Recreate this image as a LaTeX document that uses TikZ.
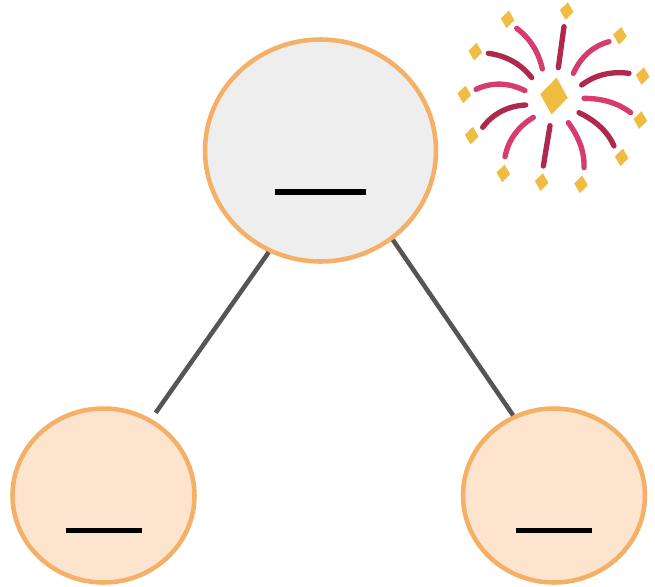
\documentclass[tikz,border=0pt]{standalone}
\usepackage{tikz}
\usetikzlibrary{positioning}
\usetikzlibrary{shapes.geometric}

\definecolor{ringorange}{HTML}{F5B067}
\definecolor{fillpeach}{HTML}{FCE4CE}
\definecolor{fillgrey}{HTML}{EEEEEE}
\definecolor{edgegrey}{HTML}{555555}
\definecolor{sparkpink}{HTML}{D63C6C}
\definecolor{sparkdark}{HTML}{B0294C}
\definecolor{sparkgold}{HTML}{F0BC42}

\begin{document}
\begin{tikzpicture} [
    x=0.75pt, y=-0.75pt,
    node distance=258.75pt and 162.75pt,    % centre to centre
    on grid,
    ]
% -------------------------------------------------
\tikzset{
  base/.style={draw=ringorange, line width=3.4pt, ellipse, inner sep=0pt},
  rootnode/.style={base, fill=fillgrey, minimum width=173.25pt, minimum height=166.5pt},
  leafnode/.style={base, fill=fillpeach, minimum width=136.5pt, minimum height=130.5pt},
  bar/.style={rectangle, fill=black, inner sep=0pt},
  rootbar/.style={bar, minimum width=68.25pt, minimum height=4.5pt},
  leafbar/.style={bar, minimum width=57pt, minimum height=3.75pt},
  line/.style={draw=edgegrey, line width=3.4pt},
  sparkp/.style={draw=sparkpink, line width=4pt, line cap=round},
  sparkd/.style={draw=sparkdark, line width=4pt, line cap=round},
  gem/.style={diamond, fill=sparkgold, inner sep=0pt, rotate=-8, minimum width=10.5pt, minimum height=13.5pt},
}
    \useasboundingbox (0,0) rectangle (655,586);

    \node [rootnode] (top) at (320.5,150.5) {};
    \node [leafnode, below left=of top] (left) {};
    \node [leafnode, below right=258.75pt and 175.1pt of top] (right) {};

    \node [rootbar, below=31.1pt of top] (topbar) {};
    \node [leafbar, below=26.2pt of left] (leftbar) {};
    \node [leafbar, below=26.2pt of right] (rightbar) {};

    \path [line, shorten >=5.6pt] (top.243) -- (left.58);
    \path [line] (top.-51.5) -- (right.117);

    % firework, in 3x crop coordinates
    \begin{scope}[shift={(455,0)}, x=0.25pt, y=-0.25pt]
    \path [sparkp] (185,85) .. controls (225,115) and (251,156) .. (262,207);
    \path [sparkd] (327,80) -- (310,203);
    \path [sparkp] (462,125) .. controls (414,138) and (378,170) .. (355,220);
    \path [sparkd] (522,220) .. controls (467,213) and (420,225) .. (380,255);
    \path [sparkp] (387,295) .. controls (442,295) and (489,309) .. (527,338);
    \path [sparkd] (372,338) .. controls (424,363) and (459,396) .. (477,438);
    \path [sparkp] (340,368) .. controls (373,413) and (389,458) .. (387,503);
    \path [sparkd] (285,377) -- (265,498);
    \path [sparkp] (235,352) .. controls (188,381) and (160,420) .. (150,470);
    \path [sparkd] (212,315) .. controls (157,318) and (114,341) .. (83,382);
    \path [sparkp] (210,272) .. controls (160,247) and (111,246) .. (63,268);
    \path [sparkd] (230,233) .. controls (197,191) and (153,167) .. (100,160);

    \node [gem, minimum width=21pt, minimum height=28pt] (g0) at (297,288) {};
    \node [gem] (g1) at (335,33) {};
    \node [gem] (g2) at (158,58) {};
    \node [gem] (g3) at (495,107) {};
    \node [gem] (g4) at (61,155) {};
    \node [gem] (g5) at (563,228) {};
    \node [gem] (g6) at (28,283) {};
    \node [gem] (g7) at (556,360) {};
    \node [gem] (g8) at (50,407) {};
    \node [gem] (g9) at (500,472) {};
    \node [gem] (g10) at (145,520) {};
    \node [gem] (g11) at (260,546) {};
    \node [gem] (g12) at (378,553) {};
    \end{scope}
\end{tikzpicture}
\end{document}
